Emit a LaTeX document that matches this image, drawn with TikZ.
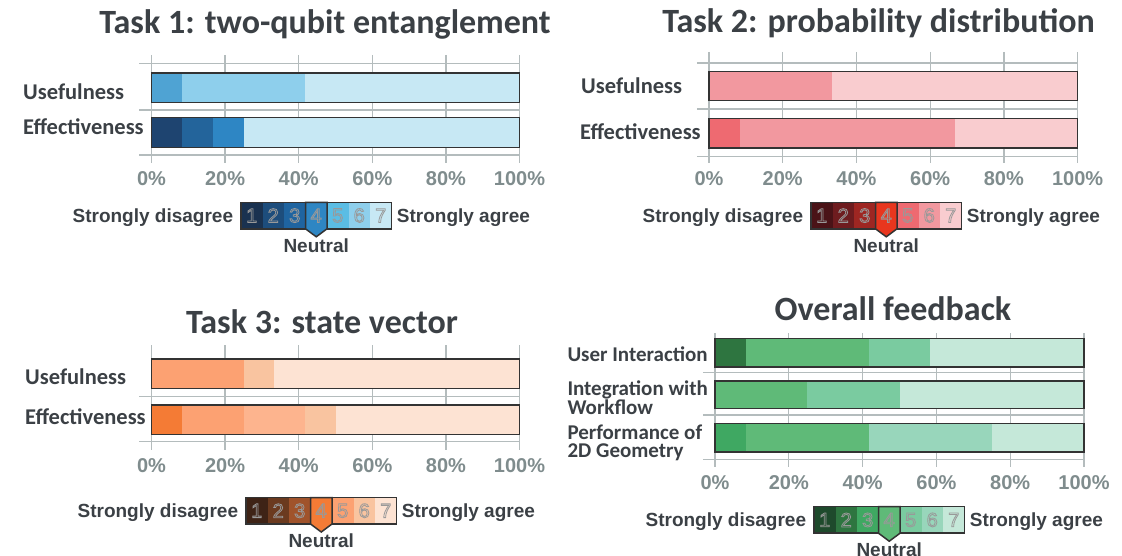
\documentclass[tikz,border=0pt]{standalone}
\usepackage{fontspec}
\setmainfont{Liberation Sans}
\newfontfamily\carlito{Carlito}
\usetikzlibrary{positioning}

\definecolor{titlegray}{HTML}{3B4045}
\definecolor{tickgray}{HTML}{7F8C8D}
\definecolor{gridgray}{HTML}{B4BCBD}
\definecolor{barline}{HTML}{333333}
\definecolor{digitgray}{HTML}{999999}
\definecolor{b1}{HTML}{1A3250}
\definecolor{b2}{HTML}{1D4D7C}
\definecolor{b3}{HTML}{1F64A0}
\definecolor{b4}{HTML}{2E86C3}
\definecolor{b5}{HTML}{5BBDE4}
\definecolor{b6}{HTML}{8ECFEC}
\definecolor{b7}{HTML}{C7E8F4}
\definecolor{bu}{HTML}{4FA3D3}
\definecolor{be1}{HTML}{1E4470}
\definecolor{be2}{HTML}{23649B}
\definecolor{be3}{HTML}{2E86C4}
\definecolor{r1}{HTML}{4A1317}
\definecolor{r2}{HTML}{6E1C1F}
\definecolor{r3}{HTML}{9E2622}
\definecolor{r4}{HTML}{E8361E}
\definecolor{r5}{HTML}{EE6A71}
\definecolor{r6}{HTML}{F2989F}
\definecolor{r7}{HTML}{F9CCCF}
\definecolor{o1}{HTML}{3E2316}
\definecolor{o2}{HTML}{6B3A1F}
\definecolor{o3}{HTML}{A0532B}
\definecolor{o4}{HTML}{F47B35}
\definecolor{o5}{HTML}{FCA172}
\definecolor{o6}{HTML}{F9C4A0}
\definecolor{o7}{HTML}{FDE3D3}
\definecolor{oe}{HTML}{FDB48E}
\definecolor{g1}{HTML}{1E4A2C}
\definecolor{g2}{HTML}{2E7540}
\definecolor{g3}{HTML}{3FA862}
\definecolor{g4}{HTML}{5FBA78}
\definecolor{g5}{HTML}{7ACBA0}
\definecolor{g6}{HTML}{98D6BB}
\definecolor{g7}{HTML}{C5E8D9}

\tikzstyle{gridline} = [draw=gridgray, line width=1.3pt]
\tikzstyle{bar} = [draw=barline, line width=1.6pt]
\tikzstyle{title} = [font=\carlito\bfseries\fontsize{34}{38}\selectfont, text=titlegray, anchor=base, inner sep=0pt]
\tikzstyle{rowlabel} = [font=\carlito\bfseries\fontsize{22.5}{18.5}\selectfont, text=titlegray, anchor=base west, inner sep=0pt, align=left]
\tikzstyle{smalllabel} = [rowlabel, font=\carlito\bfseries\fontsize{21}{18.5}\selectfont]
\tikzstyle{ticklabel} = [font=\bfseries\fontsize{20}{24}\selectfont, text=tickgray, inner sep=0pt]
\tikzstyle{keytext} = [font=\bfseries\fontsize{19}{22}\selectfont, text=titlegray, inner sep=0pt]
\tikzstyle{keycell} = [rectangle, minimum width=21.5pt, minimum height=26.5pt, inner sep=0pt, font=\fontsize{20}{24}\selectfont]
\tikzstyle{keyline} = [draw=barline, line width=1.5pt]

\newcommand{\keydigit}[1]{\color{digitgray}\special{pdf:code 1 Tr 0.8 w}#1\special{pdf:code 0 Tr}}

\newcommand{\likertkey}[4]{%
  \foreach \i in {1,2,3,5,6,7}
    \node [keycell, fill=#4\i] (#1c\i) at ({#2+(\i-0.5)*21.5},{#3+13.25}) {\keydigit{\i}};
  \draw [keyline] (#2,#3) rectangle ({#2+150.5},{#3+26.5});
  \draw [keyline, fill=#44] ({#2+64.5},#3) -- ({#2+86},#3) -- ({#2+86},{#3+26.5})
    -- ({#2+75.25},{#3+34.5}) -- ({#2+64.5},{#3+26.5}) -- cycle;
  \node [keycell] (#1c4) at ({#2+75.25},{#3+13.25}) {\keydigit{4}};
  \coordinate (#1tip) at ({#2+75.25},{#3+34.5});
  \node [keytext, base left=7.5pt of #1c1] (#1dis) {Strongly disagree};
  \node [keytext, base right=5pt of #1c7] (#1agr) {Strongly agree};
  \node [keytext, below=1.5pt of #1tip] (#1neu) {Neutral};
}

\begin{document}
\begin{tikzpicture}[x=1pt, y=-1pt]
\useasboundingbox (0,0) rectangle (1122,556);

\node [title] (t1title) at (325,33.3) {Task 1: two-qubit entanglement};
\node [rowlabel] (t1use) at (23,100) {Usefulness};
\node [rowlabel] (t1eff) at (23,135) {Effectiveness};
\begin{scope}[shift={(151.5pt,0pt)}, x=3.68pt]
\foreach \p in {0,20,...,100} {
  \draw [gridline] (\p,55) -- (\p,163);
  \node [ticklabel] (t1x\p) at (\p,178.3) {\p\%};
}
\foreach \h in {63.3,110,155} \draw [gridline] (-3.3,\h) -- (100,\h);
\foreach \a/\b/\col in {0/8.33/bu, 8.33/41.67/b6, 41.67/100/b7}
  \fill [\col] (\a,73.3) rectangle (\b,102.7);
\foreach \a/\b/\col in {0/8.33/be1, 8.33/16.67/be2, 16.67/25/be3, 25/100/b7}
  \fill [\col] (\a,117.7) rectangle (\b,147.7);
\draw [bar] (0,73.3) rectangle (100,102.7);
\draw [bar] (0,117.7) rectangle (100,147.7);
\end{scope}
\likertkey{k1}{241}{202.3}{b}

\node [title] (t2title) at (878.5,33) {Task 2: probability distribution};
\node [rowlabel] (t2use) at (581,93.3) {Usefulness};
\node [rowlabel] (t2eff) at (580,139.3) {Effectiveness};
\begin{scope}[shift={(709pt,0pt)}, x=3.686pt]
\foreach \p in {0,20,...,100} {
  \draw [gridline] (\p,52) -- (\p,163);
  \node [ticklabel] (t2x\p) at (\p,179) {\p\%};
}
\foreach \h in {63,109,156.7} \draw [gridline] (-3.3,\h) -- (100,\h);
\foreach \a/\b/\col in {0/33.33/r6, 33.33/100/r7}
  \fill [\col] (\a,71.7) rectangle (\b,100.7);
\foreach \a/\b/\col in {0/8.33/r5, 8.33/66.67/r6, 66.67/100/r7}
  \fill [\col] (\a,118.7) rectangle (\b,148.3);
\draw [bar] (0,71.7) rectangle (100,100.7);
\draw [bar] (0,118.7) rectangle (100,148.3);
\end{scope}
\likertkey{k2}{811}{202.3}{r}

\node [title] (t3title) at (322,333.3) {Task 3: state vector};
\node [rowlabel] (t3use) at (25,384.3) {Usefulness};
\node [rowlabel] (t3eff) at (25,424) {Effectiveness};
\begin{scope}[shift={(151.5pt,0pt)}, x=3.68pt]
\foreach \p in {0,20,...,100} {
  \draw [gridline] (\p,345) -- (\p,450);
  \node [ticklabel] (t3x\p) at (\p,465.3) {\p\%};
}
\foreach \h in {396.7,441.7} \draw [gridline] (-3.3,\h) -- (100,\h);
\foreach \a/\b/\col in {0/25/o5, 25/33.33/o6, 33.33/100/o7}
  \fill [\col] (\a,359) rectangle (\b,388.3);
\foreach \a/\b/\col in {0/8.33/o4, 8.33/25/o5, 25/41.67/oe, 41.67/50/o6, 50/100/o7}
  \fill [\col] (\a,405) rectangle (\b,434.3);
\draw [bar] (0,359) rectangle (100,388.3);
\draw [bar] (0,405) rectangle (100,434.3);
\end{scope}
\likertkey{k3}{246}{497.5}{o}

\node [title] (t4title) at (893,320.7) {Overall feedback};
\node [smalllabel] (t4user) at (567.3,361) {User Interaction};
\node [smalllabel] (t4work) at (567.3,414.3) {Integration with\\Workflow};
\node [smalllabel] (t4perf) at (567.3,457.7) {Performance of\\2D Geometry};
\begin{scope}[shift={(715pt,0pt)}, x=3.69pt]
\foreach \p in {0,20,...,100} {
  \draw [gridline] (\p,333) -- (\p,467);
  \node [ticklabel] (t4x\p) at (\p,482.5) {\p\%};
}
\foreach \h in {372.7,415,459.3} \draw [gridline] (-3.3,\h) -- (100,\h);
\foreach \a/\b/\col in {0/8.33/g2, 8.33/41.67/g4, 41.67/58.33/g5, 58.33/100/g7}
  \fill [\col] (\a,338.3) rectangle (\b,366.7);
\foreach \a/\b/\col in {0/25/g4, 25/50/g5, 50/100/g7}
  \fill [\col] (\a,381) rectangle (\b,408.3);
\foreach \a/\b/\col in {0/8.33/g3, 8.33/41.67/g4, 41.67/75/g6, 75/100/g7}
  \fill [\col] (\a,423.3) rectangle (\b,451.7);
\draw [bar] (0,338.3) rectangle (100,366.7);
\draw [bar] (0,381) rectangle (100,408.3);
\draw [bar] (0,423.3) rectangle (100,451.7);
\end{scope}
\likertkey{k4}{814}{506.7}{g}
\end{tikzpicture}
\end{document}
